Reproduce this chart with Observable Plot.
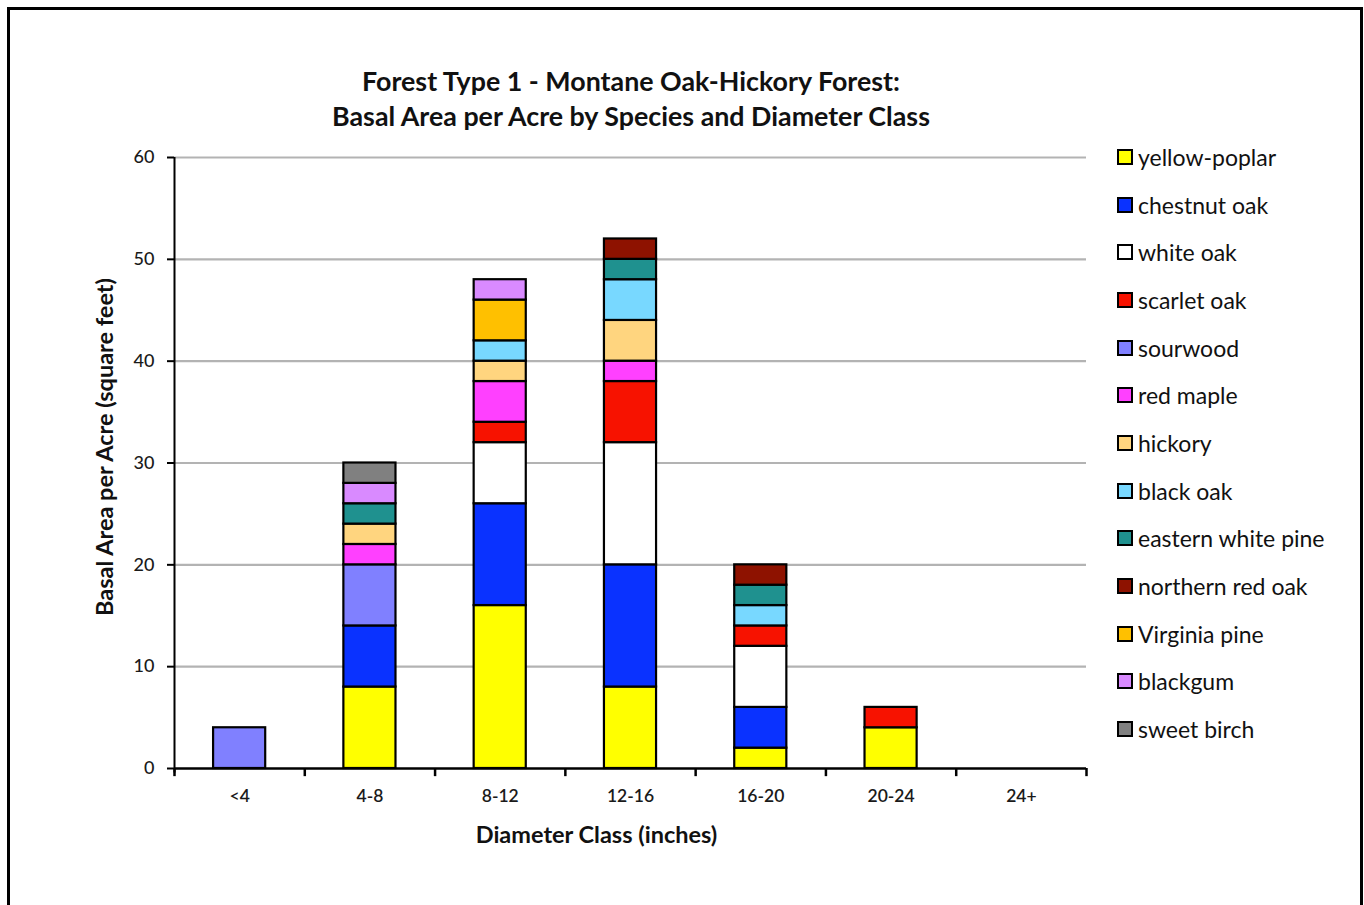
<!DOCTYPE html>
<html>
<head>
<meta charset="utf-8">
<script src="https://cdn.jsdelivr.net/npm/d3@7"></script>
<script src="https://cdn.jsdelivr.net/npm/@observablehq/plot@0.6"></script>
<style>
  html, body { margin: 0; padding: 0; background: #fff; overflow: hidden; }
  #page { position: relative; width: 1364px; height: 905px; font-family: Lato, "Open Sans", sans-serif; color: #111; }
  #border { position: absolute; left: 7px; top: 7px; width: 1350px; height: 1000px; border: 3px solid #000; box-sizing: content-box; }
  #title { position: absolute; left: 0; width: 1262px; top: 64px; text-align: center; font-weight: bold; font-size: 26.8px; line-height: 35px; }
  #chart { position: absolute; left: 0; top: 0; }
  #legend { position: absolute; left: 1117px; top: 0; }
  .item { position: absolute; left: 0; height: 26px; display: flex; align-items: center; white-space: nowrap; font-size: 23px; }
  .sw { width: 12px; height: 12px; border: 2px solid #000; margin-right: 5px; flex: none; }
</style>
</head>
<body>
<div id="page">
  <div id="border"></div>
  <div id="chart"></div>
  <div id="title">Forest Type 1 - Montane Oak-Hickory Forest:<br>Basal Area per Acre by Species and Diameter Class</div>
  <div id="legend"></div>
</div>
<script>
// Diameter classes (inches) along the x axis
const classes = ["<4", "4-8", "8-12", "12-16", "16-20", "20-24", "24+"];

// Species, in stacking order (bottom to top) and legend order
const species = [
  "yellow-poplar", "chestnut oak", "white oak", "scarlet oak", "sourwood",
  "red maple", "hickory", "black oak", "eastern white pine",
  "northern red oak", "Virginia pine", "blackgum", "sweet birch"
];

const speciesColors = [
  "#FFFF00", "#0A32FF", "#FFFFFF", "#F71200", "#8080FF",
  "#FF40FF", "#FFD57F", "#78D8FF", "#1F918F",
  "#8E1200", "#FFC000", "#D98AFF", "#808080"
];

// Basal area per acre (sq ft), one array per species across the diameter classes
const yellowPoplar     = [0, 8, 16, 8, 2, 4, 0];
const chestnutOak      = [0, 6, 10, 12, 4, 0, 0];
const whiteOak         = [0, 0, 6, 12, 6, 0, 0];
const scarletOak       = [0, 0, 2, 6, 2, 2, 0];
const sourwood         = [4, 6, 0, 0, 0, 0, 0];
const redMaple         = [0, 2, 4, 2, 0, 0, 0];
const hickory          = [0, 2, 2, 4, 0, 0, 0];
const blackOak         = [0, 0, 2, 4, 2, 0, 0];
const easternWhitePine = [0, 2, 0, 2, 2, 0, 0];
const northernRedOak   = [0, 0, 0, 2, 2, 0, 0];
const virginiaPine     = [0, 0, 4, 0, 0, 0, 0];
const blackgum         = [0, 2, 2, 0, 0, 0, 0];
const sweetBirch       = [0, 2, 0, 0, 0, 0, 0];

const yTicks = [0, 10, 20, 30, 40, 50, 60];

const series = [
  yellowPoplar, chestnutOak, whiteOak, scarletOak, sourwood, redMaple, hickory,
  blackOak, easternWhitePine, northernRedOak, virginiaPine, blackgum, sweetBirch
];

// Long-format table for the stacked bars (zero entries are skipped)
const rows = [];
species.forEach((s, i) => {
  classes.forEach((c, j) => {
    if (series[i][j] > 0) rows.push({cls: c, species: s, value: series[i][j]});
  });
});

const width = 1364, height = 905;
const marginLeft = 174, marginRight = 278, marginTop = 157, marginBottom = 137;
const step = (width - marginLeft - marginRight) / classes.length;

const chart = Plot.plot({
  width, height, marginLeft, marginRight, marginTop, marginBottom,
  style: {fontFamily: "Lato, 'Open Sans', sans-serif", fontSize: "17px", color: "#1a1a1a", background: "transparent", overflow: "visible"},
  x: {domain: classes, paddingInner: 0.6, paddingOuter: 0.3, round: false, label: null},
  y: {domain: [0, 60], label: null},
  color: {domain: species, range: speciesColors},
  marks: [
    Plot.ruleY(yTicks.filter(d => d > 0), {stroke: "#b3b3b3", strokeWidth: 2.2}),
    Plot.barY(rows, {x: "cls", y: "value", fill: "species", stroke: "#000", strokeWidth: 2.2, order: null}),
    Plot.axisY({ticks: yTicks, tickSize: 7, tickPadding: 13, stroke: "#000", strokeWidth: 2, label: null, fontSize: 18, fontWeight: 500}),
    Plot.axisX({tickSize: 0, tickPadding: 21, label: null, fontSize: 17.5, fontWeight: 600}),
    // axis lines
    Plot.ruleY([0], {stroke: "#000", strokeWidth: 2.5}),
    Plot.ruleX([classes[0]], {dx: -step / 2, y1: -0.45, y2: 60, stroke: "#000", strokeWidth: 2}),
    // category boundary ticks below the x axis
    Plot.ruleX(classes, {x: d => d, dx: -step / 2, y1: 0, y2: -0.8, stroke: "#000", strokeWidth: 2.5}),
    Plot.ruleX([classes[classes.length - 1]], {dx: step / 2, y1: 0, y2: -0.8, stroke: "#000", strokeWidth: 2.5}),
    // axis titles
    Plot.text(["Basal Area per Acre (square feet)"], {
      frameAnchor: "left", dx: -69, dy: -16, rotate: -90,
      textAnchor: "middle", lineAnchor: "middle", fontWeight: "bold", fontSize: 23.5, fill: "#111"
    }),
    Plot.text(["Diameter Class (inches)"], {
      frameAnchor: "bottom", dx: -34, dy: 67,
      textAnchor: "middle", lineAnchor: "middle", fontWeight: "bold", fontSize: 23.5, fill: "#111"
    })
  ]
});
document.getElementById("chart").appendChild(chart);

// Legend
const legend = document.getElementById("legend");
species.forEach((s, i) => {
  const item = document.createElement("div");
  item.className = "item";
  item.style.top = (157 + i * 47.67 - 13) + "px";
  const sw = document.createElement("span");
  sw.className = "sw";
  sw.style.background = speciesColors[i];
  const label = document.createElement("span");
  label.textContent = s;
  item.appendChild(sw);
  item.appendChild(label);
  legend.appendChild(item);
});
</script>
</body>
</html>
